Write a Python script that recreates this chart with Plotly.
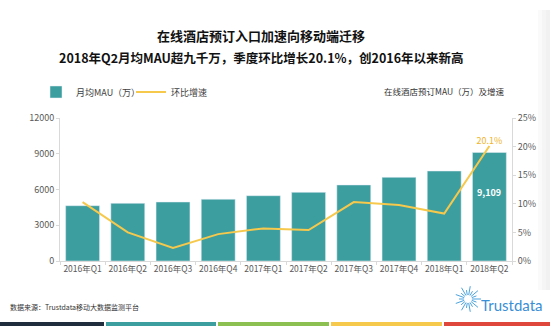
import math
import plotly.graph_objects as go

quarters = ["2016年Q1", "2016年Q2", "2016年Q3", "2016年Q4", "2017年Q1",
            "2017年Q2", "2017年Q3", "2017年Q4", "2018年Q1", "2018年Q2"]
mau = [4640, 4840, 4950, 5180, 5480, 5760, 6380, 7020, 7550, 9109]
growth = [10.3, 5.0, 2.3, 4.7, 5.7, 5.4, 10.3, 9.8, 8.3, 20.1]
mau_ticks = [0, 3000, 6000, 9000, 12000]
growth_ticks = [0, 5, 10, 15, 20, 25]

TEAL = "#3d9e9f"
YELLOW = "#f6c84c"
FONT = "Noto Sans CJK SC"
W, H = 550, 326
L, R, T, B = 60, 512, 118, 261


def px(x):
    return (x - L) / (R - L)


def py(y):
    return (B - y) / (B - T)


fig = go.Figure()
fig.add_trace(go.Bar(
    x=quarters, y=mau, name="月均MAU（万）", marker_color=TEAL,
    width=0.75,
))
fig.add_trace(go.Scatter(
    x=quarters, y=growth, name="环比增速", yaxis="y2", mode="lines+text",
    line=dict(color=YELLOW, width=2),
    text=["" for _ in growth[:-1]] + [f"{growth[-1]}%"],
    textposition="top center",
    textfont=dict(color="#f0b429", size=9, family=FONT),
    cliponaxis=False,
))
# value label on the latest bar
fig.add_annotation(x=quarters[-1], y=mau[-1], text=f"<b>{mau[-1]:,}</b>",
                   showarrow=False, yshift=-40, yanchor="middle",
                   font=dict(color="white", size=9, family=FONT))

axis_common = dict(showline=True, linecolor="#d9d9d9", ticks="outside",
                   tickcolor="#d9d9d9", ticklen=3, showgrid=False,
                   zeroline=False, tickfont=dict(size=9, color="#595959"))

fig.update_layout(
    width=W, height=H,
    margin=dict(l=L, r=W - R, t=T, b=H - B),
    paper_bgcolor="white", plot_bgcolor="white",
    font=dict(family=FONT, color="#595959", size=9),
    showlegend=True,
    legend=dict(orientation="h", x=px(36), xanchor="left", y=py(92), yanchor="middle",
                font=dict(size=9, color="#404040"), itemwidth=30,
                entrywidth=50, entrywidthmode="pixels",
                bgcolor="rgba(0,0,0,0)"),
    xaxis=dict(axis_common, tickson="boundaries", tickangle=0,
               tickfont=dict(size=8.5, color="#595959")),
    yaxis=dict(axis_common, range=[0, 12000], tickvals=mau_ticks,
               ticktext=[str(v) for v in mau_ticks]),
    yaxis2=dict(axis_common, range=[0, 25], tickvals=growth_ticks,
                ticktext=[f"{v}%" for v in growth_ticks],
                overlaying="y", side="right"),
)

# Titles and notes
fig.add_annotation(text="<b>在线酒店预订入口加速向移动端迁移</b>", xref="paper", yref="paper",
                   x=px(261), y=py(46.5), xanchor="center", yanchor="bottom", borderpad=0,
                   showarrow=False, font=dict(size=13, color="#111111", family=FONT))
fig.add_annotation(text="<b>2018年Q2月均MAU超九千万，季度环比增长20.1%，创2016年以来新高</b>",
                   xref="paper", yref="paper",
                   x=px(261), y=py(46.5), xanchor="center", yanchor="top", borderpad=0,
                   showarrow=False, font=dict(size=12.5, color="#111111", family=FONT))
fig.add_annotation(text="在线酒店预订MAU（万）及增速", xref="paper", yref="paper",
                   x=px(507), y=py(91), xanchor="right", yanchor="middle",
                   showarrow=False, font=dict(size=8.5, color="#333333", family=FONT))
fig.add_annotation(text="数据来源：Trustdata移动大数据监测平台", xref="paper", yref="paper",
                   x=px(8), y=py(307), xanchor="left", yanchor="middle",
                   showarrow=False, font=dict(size=7, color="#333333", family=FONT))
fig.add_annotation(text="Trustdata", xref="paper", yref="paper",
                   x=px(479), y=py(305), xanchor="left", yanchor="middle",
                   showarrow=False, font=dict(size=15, color="#3a8fd6", family="Lato"))

shapes = []
# soft grey edge on the right
for i, c in enumerate(["#fafafa", "#f5f5f5", "#f1f1f1"]):
    shapes.append(dict(type="rect", xref="paper", yref="paper",
                       x0=px(538 + 4 * i), x1=px(550), y0=py(290), y1=py(10),
                       fillcolor=c, line=dict(width=0), layer="below"))

# starburst logo mark
cx, cy = 468, 299
for k in range(18):
    a = 2 * math.pi * k / 18
    r0, r1 = 4, (13 if k % 2 == 0 else 9)
    shapes.append(dict(type="line", xref="paper", yref="paper",
                       x0=px(cx + r0 * math.cos(a)), y0=py(cy - r0 * math.sin(a)),
                       x1=px(cx + r1 * math.cos(a)), y1=py(cy - r1 * math.sin(a)),
                       line=dict(color="#4aa3df", width=1)))

# coloured footer stripe
stripe = [(0, 104, "#1f2d3d"), (106, 216, "#3d9e9f"), (218, 329, "#8cc152"),
          (331, 442, "#f6c84c"), (444, 550, "#e0473c")]
for x0, x1, c in stripe:
    shapes.append(dict(type="rect", xref="paper", yref="paper",
                       x0=px(x0), x1=px(x1), y0=py(326), y1=py(322),
                       fillcolor=c, line=dict(width=0), layer="above"))
fig.update_layout(shapes=shapes)

fig.write_html("out.html")
